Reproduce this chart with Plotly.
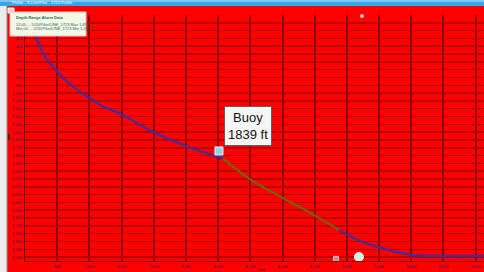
import plotly.graph_objects as go

# Data (distance, depth in ft)
dist_a = [0, 140, 295, 481, 714, 978, 1227, 1491, 1957, 2500, 3075]
depth_a = [0, 218, 512, 704, 896, 1050, 1178, 1267, 1485, 1677, 1839]
dist_b = [3075, 3510, 3976, 4488, 4876]
depth_b = [1839, 2112, 2330, 2560, 2752]
dist_c = [4876, 5171, 5529, 5995, 6460, 7144]
depth_c = [2752, 2880, 2982, 3072, 3085, 3085]

buoy_dist = 3013
buoy_depth = 1741
buoy_label = "Buoy<br>1839 ft"

x_ticks = list(range(500, 7001, 500))
y_ticks = list(range(0, 3101, 100))
# labels for 0-200 ft lie under the legend box in the reference
y_ticktext = ["" if v < 300 else f"{v:,}" for v in y_ticks]

W, H = 484, 272
L, R, T, B = 25, 0, 15, 11
pw, ph = W - L - R, H - T - B

def px(x):
    return (x - L) / pw

def py(y):
    return (H - B - y) / ph

fig = go.Figure()
blue = "#3b2f9e"
olive = "#6e6414"
fig.add_trace(go.Scatter(x=dist_a, y=depth_a, mode="lines", line=dict(color=blue, width=2.2, shape="spline"), hoverinfo="skip"))
fig.add_trace(go.Scatter(x=dist_b, y=depth_b, mode="lines", line=dict(color=olive, width=2.2, shape="spline"), hoverinfo="skip"))
fig.add_trace(go.Scatter(x=dist_c, y=depth_c, mode="lines", line=dict(color=blue, width=2.2, shape="spline"), hoverinfo="skip"))
fig.add_trace(go.Scatter(x=[buoy_dist], y=[buoy_depth], mode="markers",
                         marker=dict(symbol="square", size=8, color="#8fd4ea", line=dict(color="#e8f8ff", width=1)),
                         hoverinfo="skip"))
fig.add_trace(go.Scatter(x=[4830], y=[3123], mode="markers", cliponaxis=False,
                         marker=dict(symbol="square", size=5, color="#c09090", line=dict(color="#e0c0c0", width=1)), hoverinfo="skip"))
fig.add_trace(go.Scatter(x=[5187], y=[3098], mode="markers", cliponaxis=False,
                         marker=dict(symbol="circle", size=9, color="#d8f2e4", line=dict(color="#f0fff8", width=1)), hoverinfo="skip"))
fig.add_trace(go.Scatter(x=[5234], y=[13], mode="markers", cliponaxis=False,
                         marker=dict(symbol="circle", size=4, color="#c8c8c8"), hoverinfo="skip"))

fig.add_annotation(x=3463, y=1427, text=buoy_label, showarrow=False,
                   font=dict(family="Arial", size=13, color="#111111"),
                   bgcolor="#f6f6f6", bordercolor="#606060", borderwidth=1, borderpad=3)

shapes = [
    # title bar
    dict(type="rect", xref="paper", yref="paper", x0=px(0), x1=px(W), y0=py(6), y1=py(0), fillcolor="#35a8ec", line=dict(width=0), layer="above"),
    dict(type="rect", xref="paper", yref="paper", x0=px(0), x1=px(W), y0=py(2), y1=py(0), fillcolor="#7cc8f4", line=dict(width=0), layer="above"),
    # left strip
    dict(type="rect", xref="paper", yref="paper", x0=px(0), x1=px(7), y0=py(H), y1=py(6), fillcolor="#ececec", line=dict(width=0), layer="above"),
    dict(type="line", xref="paper", yref="paper", x0=px(7), x1=px(7), y0=py(H), y1=py(6), line=dict(color="#909090", width=1), layer="above"),
    dict(type="rect", xref="paper", yref="paper", x0=px(8), x1=px(10), y0=py(140), y1=py(134), fillcolor="#602020", line=dict(width=0), layer="above"),
    # small icon
    dict(type="rect", xref="paper", yref="paper", x0=px(8), x1=px(14), y0=py(13), y1=py(8), fillcolor="#f0d0d0", line=dict(color="#ffffff", width=1), layer="above"),
    # legend box
    dict(type="rect", xref="paper", yref="paper", x0=px(10), x1=px(86), y0=py(36), y1=py(12), fillcolor="#f4f6e8", line=dict(color="#d0d0c0", width=1), layer="above"),
]
fig.update_layout(shapes=shapes)

fig.add_annotation(xref="paper", yref="paper", x=px(14), y=py(17), xanchor="left", yanchor="middle", showarrow=False,
                   text="<b>Depth Range Alarm Data</b>", font=dict(family="Arial", size=4, color="#1a7050"))
fig.add_annotation(xref="paper", yref="paper", x=px(14), y=py(24), xanchor="left", yanchor="middle", showarrow=False,
                   text="12:00 ... 5/20/Pike/LINE_1723 Max 1,839 ft", font=dict(family="Arial", size=4, color="#1a7050"))
fig.add_annotation(xref="paper", yref="paper", x=px(14), y=py(29), xanchor="left", yanchor="middle", showarrow=False,
                   text="Min:00 ... 5/20/Pike/LINE_1723 Min 1,287 ft", font=dict(family="Arial", size=4, color="#1a7050"))
fig.add_annotation(xref="paper", yref="paper", x=px(10), y=py(3), xanchor="left", yanchor="middle", showarrow=False,
                   text="Profile - S-Line/Pike - 1723 Profile", font=dict(family="Arial", size=4, color="#ffffff"))
fig.add_annotation(xref="paper", yref="paper", x=px(262), y=py(269), xanchor="center", yanchor="middle", showarrow=False,
                   text="Dist", font=dict(family="Arial", size=4, color="#202060"))

fig.update_xaxes(range=[0, 7130], tickvals=x_ticks, tickformat=",", showgrid=True, gridcolor="#8a0000", gridwidth=2,
                 zeroline=False, showline=True, linecolor="#900000", linewidth=1, automargin=False,
                 tickfont=dict(family="Arial", size=4, color="#202070"), ticks="", ticklabelstandoff=1)
fig.update_yaxes(range=[3150, 0], tickvals=y_ticks, ticktext=y_ticktext, showgrid=True, gridcolor="#b80000", gridwidth=1.5,
                 zeroline=False, showline=True, linecolor="#600000", linewidth=1, automargin=False,
                 tickfont=dict(family="Arial", size=4, color="#202070"), ticks="", ticklabelstandoff=1)
fig.update_layout(width=W, height=H, margin=dict(l=L, r=R, t=T, b=B, pad=0, autoexpand=False),
                  paper_bgcolor="#ff0000", plot_bgcolor="#ff0000", showlegend=False)
fig.write_html("out.html", config={"displayModeBar": False, "staticPlot": True},
               post_script="document.body.style.margin='0px';document.body.style.overflow='hidden';")
